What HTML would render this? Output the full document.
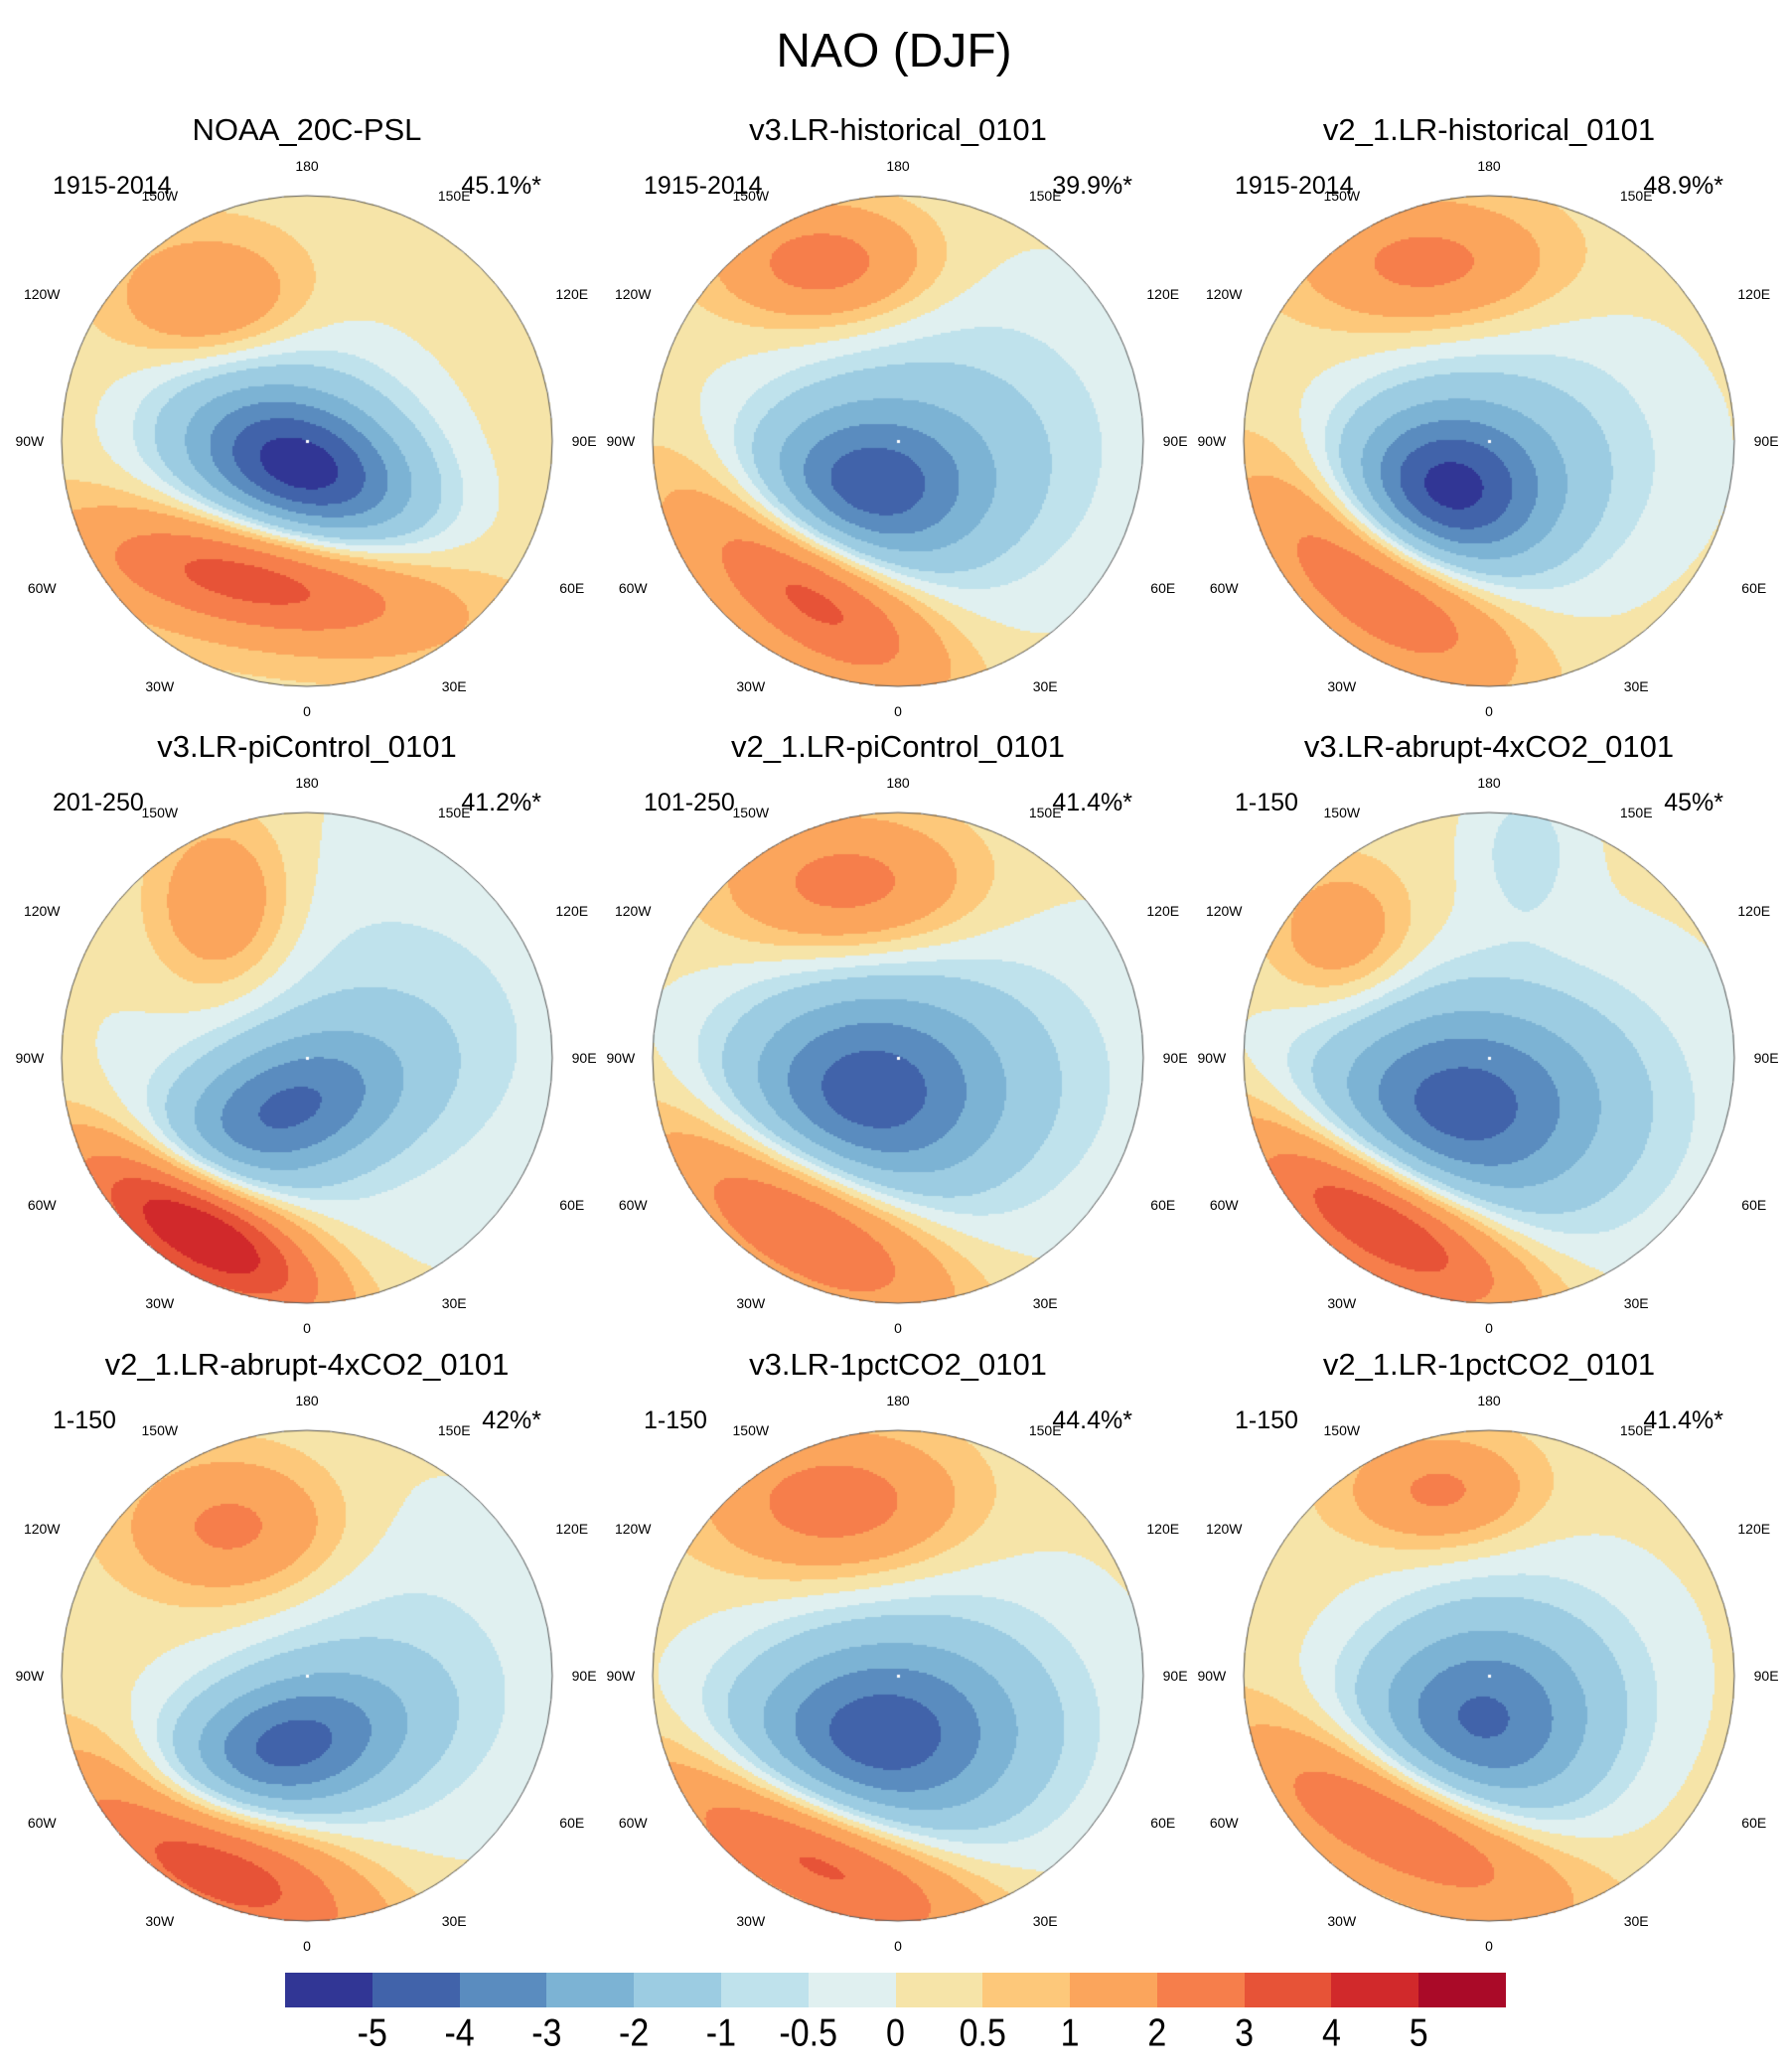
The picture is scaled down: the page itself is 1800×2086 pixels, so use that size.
<!DOCTYPE html>
<html><head><meta charset="utf-8">
<style>
body{margin:0;background:#fff;}
#wrap{position:relative;width:1800px;height:2086px;font-family:"Liberation Sans",sans-serif;color:#000;overflow:hidden;}
.t{position:absolute;white-space:nowrap;}
.main{left:0;width:1800px;top:24px;text-align:center;font-size:48px;}
.ptitle{font-size:31px;text-align:center;width:600px;}
.lab{font-size:25px;}
.lon{font-size:14px;transform:translate(-50%,-50%);}
canvas{position:absolute;}
.cbl{font-size:34px;transform:translateX(-50%) scaleY(1.15);top:2028px;}
</style></head><body>
<div id="wrap">
<div class="t main">NAO (DJF)</div>
</div>
<script>
const colors=["#313695","#4163aa","#5a8cbf","#7cb3d4","#9ccce2","#bfe2ec","#e0f0f0","#f6e4a8","#fdc87a","#fba55c","#f67e4b","#e75337","#d1292b","#aa0a28"];
const levels=[-5,-4,-3,-2,-1,-0.5,0,0.5,1,2,3,4,5];
const titles=["NOAA_20C-PSL","v3.LR-historical_0101","v2_1.LR-historical_0101","v3.LR-piControl_0101","v2_1.LR-piControl_0101","v3.LR-abrupt-4xCO2_0101","v2_1.LR-abrupt-4xCO2_0101","v3.LR-1pctCO2_0101","v2_1.LR-1pctCO2_0101"];
const periods=["1915-2014","1915-2014","1915-2014","201-250","101-250","1-150","1-150","1-150","1-150"];
const pcts=["45.1%*","39.9%*","48.9%*","41.2%*","41.4%*","45%*","42%*","44.4%*","41.4%*"];
const backgrounds=[0.3,0.2,0.25,0.1,0.15,0.15,0.2,0.2,0.3];
// components: [dx,dy,amp,sx,sy,rotDeg] in units of map radius
const comps=[
[[-0.02,0.12,-4.6,0.34,0.2,20],[-0.05,0.0,-1.5,0.38,0.32,0],[-0.2,0.55,3.6,0.5,0.17,10],[-0.4,-0.58,1.9,0.25,0.17,0]],
[[-0.15,0.2,-4.2,0.33,0.24,0],[0.25,0.0,-1.3,0.5,0.45,0],[-0.38,0.58,3.9,0.42,0.19,35],[-0.3,-0.72,2.5,0.3,0.17,0]],
[[-0.2,0.22,-5.2,0.3,0.25,0],[0.2,0.05,-1.2,0.45,0.4,0],[-0.45,0.55,3.8,0.4,0.2,35],[-0.25,-0.72,2.2,0.35,0.18,0]],
[[-0.1,0.22,-3.8,0.35,0.2,-20],[0.3,-0.1,-0.9,0.55,0.5,0],[-0.45,0.7,5.3,0.4,0.16,30],[-0.35,-0.62,1.9,0.2,0.25,0]],
[[-0.15,0.15,-4.3,0.38,0.3,0],[0.35,0.05,-0.9,0.5,0.45,0],[-0.4,0.65,3.6,0.45,0.2,30],[-0.2,-0.7,2.4,0.35,0.2,0]],
[[-0.15,0.2,-4.3,0.4,0.3,0],[0.35,0.2,-0.8,0.45,0.45,0],[-0.45,0.65,4.6,0.45,0.18,30],[-0.6,-0.5,1.6,0.2,0.2,0],[0.15,-0.85,-0.9,0.15,0.2,0]],
[[-0.1,0.3,-4.2,0.35,0.2,-15],[0.35,0.0,-0.9,0.5,0.5,0],[-0.4,0.75,3.7,0.5,0.2,25],[-0.3,-0.6,2.2,0.3,0.2,0]],
[[-0.1,0.25,-4.4,0.4,0.28,0],[0.3,0.1,-0.8,0.45,0.45,0],[-0.35,0.72,3.7,0.5,0.18,25],[-0.25,-0.7,2.5,0.35,0.2,0]],
[[-0.05,0.2,-4.2,0.35,0.3,0],[0.3,-0.1,-0.6,0.45,0.4,0],[-0.35,0.6,3.6,0.45,0.18,25],[-0.2,-0.75,2.0,0.25,0.15,0]]
];
const colX=[309,904,1499], rowY=[444,1065,1687], R=247;
const wrap=document.getElementById('wrap');
function colorFor(v){let i=0;while(i<levels.length&&v>=levels[i])i++;return colors[i];}
function addText(cls,txt,x,y,name,extra){const d=document.createElement('div');d.className='t '+cls;d.textContent=txt;d.style.left=x+'px';d.style.top=y+'px';


if(extra)Object.assign(d.style,extra);wrap.appendChild(d);return d;}
const lonLabs=[["180",0,-1.11],["150W",-0.6,-1.0],["150E",0.6,-1.0],["120W",-1.08,-0.6],["120E",1.08,-0.6],["90W",-1.13,0],["90E",1.13,0],["60W",-1.08,0.6],["60E",1.08,0.6],["30W",-0.6,1.0],["30E",0.6,1.0],["0",0,1.1]];
for(let p=0;p<9;p++){
 const cx=colX[p%3], cy=rowY[Math.floor(p/3)];
 addText('ptitle',titles[p],cx-300,cy-331,'panel-title');
 addText('lab',periods[p],cx-256,cy-271,'period-label');
 const r=addText('lab',pcts[p],0,cy-271,'variance-label');r.style.left='';r.style.right=(1800-(cx+236))+'px';
 lonLabs.forEach(l=>{addText('lon',l[0],cx+l[1]*R,cy+l[2]*R+(l[0]=='180'?-3:0),'longitude-label');});
 const c=document.createElement('canvas');c.width=2*R+4;c.height=2*R+4;c.style.left=(cx-R-2)+'px';c.style.top=(cy-R-2)+'px';
 
 
 wrap.appendChild(c);
 const g=c.getContext('2d');const st=2;
 for(let y=-R;y<R;y+=st)for(let x=-R;x<R;x+=st){
  const ux=(x+st/2)/R, uy=(y+st/2)/R; if(ux*ux+uy*uy>1)continue;
  let v=backgrounds[p];
  comps[p].forEach(k=>{const a=k[5]*Math.PI/180;const dx=ux-k[0],dy=uy-k[1];
   const rx=dx*Math.cos(a)+dy*Math.sin(a), ry=-dx*Math.sin(a)+dy*Math.cos(a);
   v+=k[2]*Math.exp(-0.5*((rx/k[3])**2+(ry/k[4])**2));});
  g.fillStyle=colorFor(v);g.fillRect(x+R+2,y+R+2,st,st);
 }
 g.beginPath();g.arc(R+2,R+2,R,0,2*Math.PI);g.strokeStyle='#555';g.lineWidth=1;g.stroke();
 g.fillStyle='#fff';g.fillRect(R+1,R+1,3,3);
}
// colorbar
const cbX=287, cbW=1229, cbY=1986, cbH=35, bw=cbW/colors.length;
colors.forEach((col,i)=>{const d=document.createElement('div');d.style.cssText=`position:absolute;left:${cbX+i*bw}px;top:${cbY}px;width:${bw+0.5}px;height:${cbH}px;background:${col}`;


wrap.appendChild(d);});
levels.forEach((l,i)=>{addText('cbl',String(l),cbX+(i+1)*bw,2028,'colorbar-label');});
</script>
</body></html>
